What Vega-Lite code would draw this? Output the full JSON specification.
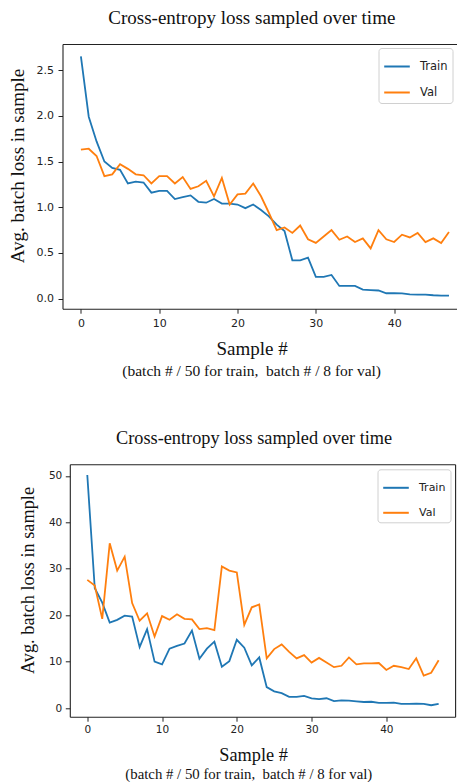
{
  "$schema": "https://vega.github.io/schema/vega-lite/v6.json",
  "background": "white",
  "padding": {"left": 7.5, "top": 8, "right": 0, "bottom": 0},
  "bounds": "flush",
  "spacing": 155.3,
  "config": {
    "view": {"stroke": null},
    "font": "DejaVu Sans",
    "axis": {
      "grid": false,
      "domainColor": "#222",
      "domainWidth": 1.1,
      "tickColor": "#222",
      "tickWidth": 1,
      "tickSize": 4.5,
      "labelColor": "#222",
      "labelFont": "DejaVu Sans",
      "labelFlush": false,
      "labelOverlap": false,
      "titleFont": "Liberation Serif",
      "titleFontWeight": "normal",
      "titleColor": "#111",
      "titleBaseline": "alphabetic"
    },
    "legend": {
      "title": null,
      "orient": "top-right",
      "symbolType": "stroke",
      "symbolSize": 655,
      "symbolStrokeWidth": 2,
      "labelFont": "DejaVu Sans",
      "labelColor": "#222",
      "labelOffset": 9,
      "padding": 4.5,
      "rowPadding": 6,
      "strokeColor": "#d0d0d0",
      "fillColor": "white",
      "cornerRadius": 3
    }
  },
  "resolve": {"scale": {"color": "independent"}, "legend": {"color": "independent"}},
  "datasets": {
    "top": [
      {"i": 0, "Train": 2.65, "Val": 1.63}, {"i": 1, "Train": 1.99, "Val": 1.64}, {"i": 2, "Train": 1.72, "Val": 1.56},
      {"i": 3, "Train": 1.50, "Val": 1.34}, {"i": 4, "Train": 1.43, "Val": 1.36}, {"i": 5, "Train": 1.41, "Val": 1.47},
      {"i": 6, "Train": 1.26, "Val": 1.42}, {"i": 7, "Train": 1.28, "Val": 1.36}, {"i": 8, "Train": 1.27, "Val": 1.35},
      {"i": 9, "Train": 1.16, "Val": 1.26}, {"i": 10, "Train": 1.18, "Val": 1.34}, {"i": 11, "Train": 1.18, "Val": 1.34},
      {"i": 12, "Train": 1.09, "Val": 1.26}, {"i": 13, "Train": 1.11, "Val": 1.33}, {"i": 14, "Train": 1.13, "Val": 1.20},
      {"i": 15, "Train": 1.06, "Val": 1.23}, {"i": 16, "Train": 1.05, "Val": 1.29}, {"i": 17, "Train": 1.09, "Val": 1.12},
      {"i": 18, "Train": 1.04, "Val": 1.32}, {"i": 19, "Train": 1.04, "Val": 1.03}, {"i": 20, "Train": 1.03, "Val": 1.14},
      {"i": 21, "Train": 0.99, "Val": 1.15}, {"i": 22, "Train": 1.03, "Val": 1.26}, {"i": 23, "Train": 0.97, "Val": 1.12},
      {"i": 24, "Train": 0.90, "Val": 0.94}, {"i": 25, "Train": 0.81, "Val": 0.75}, {"i": 26, "Train": 0.74, "Val": 0.78},
      {"i": 27, "Train": 0.42, "Val": 0.72}, {"i": 28, "Train": 0.42, "Val": 0.80}, {"i": 29, "Train": 0.45, "Val": 0.65},
      {"i": 30, "Train": 0.24, "Val": 0.61}, {"i": 31, "Train": 0.24, "Val": 0.68}, {"i": 32, "Train": 0.26, "Val": 0.75},
      {"i": 33, "Train": 0.14, "Val": 0.645}, {"i": 34, "Train": 0.14, "Val": 0.68}, {"i": 35, "Train": 0.14, "Val": 0.62},
      {"i": 36, "Train": 0.10, "Val": 0.66}, {"i": 37, "Train": 0.095, "Val": 0.55}, {"i": 38, "Train": 0.09, "Val": 0.75},
      {"i": 39, "Train": 0.06, "Val": 0.65}, {"i": 40, "Train": 0.06, "Val": 0.62}, {"i": 41, "Train": 0.058, "Val": 0.70},
      {"i": 42, "Train": 0.048, "Val": 0.67}, {"i": 43, "Train": 0.045, "Val": 0.72}, {"i": 44, "Train": 0.045, "Val": 0.62},
      {"i": 45, "Train": 0.038, "Val": 0.66}, {"i": 46, "Train": 0.033, "Val": 0.61}, {"i": 47, "Train": 0.033, "Val": 0.73}
    ],
    "bottom": [
      {"i": 0, "Train": 50.2, "Val": 27.6}, {"i": 1, "Train": 25.8, "Val": 26.4}, {"i": 2, "Train": 22.7, "Val": 19.2},
      {"i": 3, "Train": 18.4, "Val": 35.5}, {"i": 4, "Train": 19.0, "Val": 29.6}, {"i": 5, "Train": 19.9, "Val": 32.6},
      {"i": 6, "Train": 19.7, "Val": 22.6}, {"i": 7, "Train": 13.1, "Val": 18.8}, {"i": 8, "Train": 17.0, "Val": 20.4},
      {"i": 9, "Train": 10.0, "Val": 15.4}, {"i": 10, "Train": 9.4, "Val": 19.8}, {"i": 11, "Train": 12.8, "Val": 19.0},
      {"i": 12, "Train": 13.4, "Val": 20.2}, {"i": 13, "Train": 13.9, "Val": 19.2}, {"i": 14, "Train": 16.7, "Val": 19.1},
      {"i": 15, "Train": 10.6, "Val": 17.0}, {"i": 16, "Train": 12.8, "Val": 17.2}, {"i": 17, "Train": 14.3, "Val": 16.8},
      {"i": 18, "Train": 8.9, "Val": 30.5}, {"i": 19, "Train": 10.1, "Val": 29.6}, {"i": 20, "Train": 14.7, "Val": 29.2},
      {"i": 21, "Train": 13.0, "Val": 17.9}, {"i": 22, "Train": 9.2, "Val": 21.7}, {"i": 23, "Train": 10.9, "Val": 22.3},
      {"i": 24, "Train": 4.5, "Val": 10.7}, {"i": 25, "Train": 3.6, "Val": 12.7}, {"i": 26, "Train": 3.2, "Val": 13.7},
      {"i": 27, "Train": 2.4, "Val": 12.1}, {"i": 28, "Train": 2.4, "Val": 10.7}, {"i": 29, "Train": 2.6, "Val": 11.4},
      {"i": 30, "Train": 2.1, "Val": 9.8}, {"i": 31, "Train": 1.9, "Val": 10.8}, {"i": 32, "Train": 2.1, "Val": 9.8},
      {"i": 33, "Train": 1.5, "Val": 8.8}, {"i": 34, "Train": 1.65, "Val": 9.1}, {"i": 35, "Train": 1.6, "Val": 10.9},
      {"i": 36, "Train": 1.45, "Val": 9.4}, {"i": 37, "Train": 1.3, "Val": 9.6}, {"i": 38, "Train": 1.35, "Val": 9.6},
      {"i": 39, "Train": 1.1, "Val": 9.7}, {"i": 40, "Train": 1.1, "Val": 8.2}, {"i": 41, "Train": 1.15, "Val": 9.1},
      {"i": 42, "Train": 0.9, "Val": 8.8}, {"i": 43, "Train": 0.9, "Val": 8.4}, {"i": 44, "Train": 0.95, "Val": 10.7},
      {"i": 45, "Train": 0.9, "Val": 7.0}, {"i": 46, "Train": 0.6, "Val": 7.6}, {"i": 47, "Train": 0.9, "Val": 10.3}
    ]
  },
  "vconcat": [
    {
      "width": 394.3,
      "height": 264.7,
      "data": {"name": "top"},
      "title": {
        "text": "(batch # / 50 for train,\u00a0 batch # / 8 for val)",
        "orient": "bottom",
        "anchor": "middle",
        "font": "Liberation Serif",
        "fontSize": 15.5,
        "fontWeight": "normal",
        "color": "#111",
        "dx": -8,
        "offset": 5
      },
      "resolve": {"axis": {"x": "independent", "y": "independent"}},
      "layer": [
        {
          "mark": {"type": "line", "strokeWidth": 1.8},
          "encoding": {
            "x": {
              "field": "i", "type": "quantitative",
              "scale": {"domain": [-2.35, 48.0], "nice": false, "zero": false},
              "axis": {
                "orient": "bottom", "values": [0, 10, 20, 30, 40], "labelFontSize": 11, "labelPadding": 4,
                "title": "Sample #", "titleFontSize": 19, "titleX": 189.1, "titleY": 46
              }
            },
            "y": {
              "field": "Train", "type": "quantitative",
              "scale": {"domain": [-0.109, 2.785], "nice": false, "zero": false},
              "axis": {
                "orient": "left", "values": [0, 0.5, 1, 1.5, 2, 2.5], "format": ".1f", "labelFontSize": 11, "labelPadding": 4.5,
                "title": "Avg. batch loss in sample", "titleFontSize": 19, "titleAngle": 270, "titleX": -39, "titleY": 121.5
              }
            },
            "color": {
              "datum": "Train", "type": "nominal",
              "scale": {"domain": ["Train", "Val"], "range": ["#1f77b4", "#ff7f0e"]},
              "legend": {"labelFontSize": 11.5, "offset": 4}
            }
          }
        },
        {
          "mark": {"type": "line", "strokeWidth": 1.8},
          "encoding": {
            "x": {
              "field": "i", "type": "quantitative",
              "axis": {
                "orient": "top", "labels": false, "ticks": false, "domain": true,
                "title": "Cross-entropy loss sampled over time", "titleFontSize": 19, "titleX": 188.8, "titleY": -21
              }
            },
            "y": {"field": "Val", "type": "quantitative", "axis": null},
            "color": {"datum": "Val", "type": "nominal"}
          }
        }
      ]
    },
    {
      "width": 392.6,
      "height": 252.4,
      "data": {"name": "bottom"},
      "title": {
        "text": "(batch # / 50 for train,\u00a0 batch # / 8 for val)",
        "orient": "bottom",
        "anchor": "middle",
        "font": "Liberation Serif",
        "fontSize": 14.8,
        "fontWeight": "normal",
        "color": "#111",
        "dx": -10,
        "offset": 3
      },
      "resolve": {"axis": {"x": "independent", "y": "independent"}},
      "layer": [
        {
          "mark": {"type": "line", "strokeWidth": 1.8},
          "encoding": {
            "x": {
              "field": "i", "type": "quantitative",
              "scale": {"domain": [-2.34, 49.2], "range": [7.3, 392.6], "nice": false, "zero": false},
              "axis": {
                "orient": "bottom", "values": [0, 10, 20, 30, 40], "labelFontSize": 10.5, "labelPadding": 3.7,
                "title": "Sample #", "titleFontSize": 18.3, "titleX": 190.6, "titleY": 44
              }
            },
            "y": {
              "field": "Train", "type": "quantitative",
              "scale": {"domain": [-1.87, 52.5], "nice": false, "zero": false},
              "axis": {
                "orient": "left", "offset": -7.3, "values": [0, 10, 20, 30, 40, 50], "labelFontSize": 10.5, "labelPadding": 3.5,
                "title": "Avg. batch loss in sample", "titleFontSize": 18.3, "titleAngle": 270, "titleX": -36.7, "titleY": 115.7
              }
            },
            "color": {
              "datum": "Train", "type": "nominal",
              "scale": {"domain": ["Train", "Val"], "range": ["#1f77b4", "#ff7f0e"]},
              "legend": {"labelFontSize": 11, "offset": 5}
            }
          }
        },
        {
          "mark": {"type": "line", "strokeWidth": 1.8},
          "encoding": {
            "x": {
              "field": "i", "type": "quantitative",
              "axis": {
                "orient": "top", "labels": false, "ticks": false, "domain": true,
                "title": "Cross-entropy loss sampled over time", "titleFontSize": 18.3, "titleX": 191.1, "titleY": -21
              }
            },
            "y": {
              "field": "Val", "type": "quantitative",
              "axis": {"orient": "right", "labels": false, "ticks": false, "domain": true, "title": null}
            },
            "color": {"datum": "Val", "type": "nominal"}
          }
        }
      ]
    }
  ]
}
